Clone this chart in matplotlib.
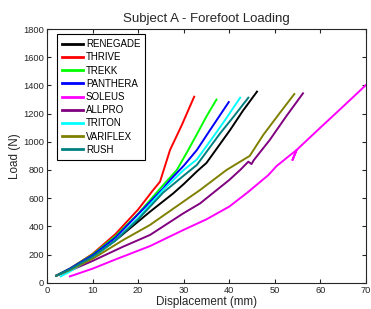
import numpy as np
import matplotlib
matplotlib.use('Agg')
import matplotlib.pyplot as plt

plt.rcParams['font.family'] = ['Liberation Sans', 'DejaVu Sans']

names = ['RENEGADE', 'THRIVE', 'TREKK', 'PANTHERA', 'SOLEUS',
         'ALLPRO', 'TRITON', 'VARIFLEX', 'RUSH']
colors = ['k', (1, 0, 0), (0, 1, 0), (0, 0, 1), (1, 0, 1),
          (0.5, 0, 0.5), (0, 1, 1), (0.5, 0.5, 0), (0, 0.5, 0.5)]

# displacement (mm) / load (N)
renegade_x = [2, 5, 10, 15, 20.4, 22.6, 27.7, 30, 32.9, 35, 37, 40.2, 43, 46.1]
renegade_y = [50, 95, 180, 300, 445, 504, 634, 700, 790, 850, 940, 1084, 1220, 1356]
thrive_x = [2, 5, 10, 15, 20, 23.3, 24.8, 27, 29.6, 32.3]
thrive_y = [50, 100, 205, 345, 520, 658, 717, 942, 1120, 1320]
trekk_x = [2, 5, 10, 15, 20, 25.5, 28.5, 31, 33, 35, 37.2]
trekk_y = [50, 100, 200, 330, 490, 693, 800, 942, 1060, 1180, 1300]
panthera_x = [2, 5, 10, 15, 20.4, 25.5, 27, 30, 32.9, 35.8, 39.9]
panthera_y = [50, 100, 195, 320, 500, 670, 729, 830, 942, 1084, 1282]
soleus_x = [5, 10, 15, 22.6, 29.9, 35, 40, 44, 48.6, 50.4, 54.8, 53.9, 54.8, 60, 65, 70.2]
soleus_y = [45, 100, 165, 260, 374, 450, 540, 640, 764, 828, 942, 871, 942, 1100, 1250, 1408]
allpro_x = [2, 5, 10, 16.7, 22.6, 29.9, 33.6, 40, 42.4, 44.2, 44.9, 45.4, 48.9, 52.5, 56.2]
allpro_y = [50, 85, 155, 256, 339, 492, 563, 729, 800, 859, 842, 870, 1013, 1180, 1344]
triton_x = [3, 5, 10, 15, 20, 25.5, 30, 32.9, 36.5, 39, 42.4]
triton_y = [45, 80, 180, 300, 460, 660, 800, 875, 1036, 1150, 1313]
variflex_x = [2, 5, 10, 16.7, 22.6, 29.9, 33.6, 39.4, 44.5, 47.5, 51, 54.3]
variflex_y = [50, 90, 170, 303, 410, 575, 658, 800, 900, 1050, 1200, 1339]
rush_x = [2, 5, 10, 15, 20, 25.5, 30, 32.9, 38, 41, 44.2]
rush_y = [50, 95, 185, 300, 450, 640, 760, 836, 1060, 1180, 1313]

xs = [renegade_x, thrive_x, trekk_x, panthera_x, soleus_x,
      allpro_x, triton_x, variflex_x, rush_x]
ys = [renegade_y, thrive_y, trekk_y, panthera_y, soleus_y,
      allpro_y, triton_y, variflex_y, rush_y]

fig = plt.figure(figsize=(3.71, 3.09), dpi=100)
ax = fig.add_axes([0.127, 0.085, 0.859, 0.821])

for x, y, c, n in zip(xs, ys, colors, names):
    ax.plot(x, y, color=c, lw=1.4, label=n)

ax.set_xlim(0, 70)
ax.set_ylim(0, 1800)
ax.set_xticks(range(0, 71, 10))
ax.set_yticks(range(0, 1801, 200))
ax.tick_params(direction='in', length=3, labelsize=6.7, top=True, right=True,
               colors='#262626', pad=2)
for s in ax.spines.values():
    s.set_linewidth(0.8)
    s.set_color('#262626')

ax.set_xlabel('Displacement (mm)', fontsize=8.4, labelpad=1, color='#262626')
ax.set_ylabel('Load (N)', fontsize=8.4, labelpad=2, color='#262626')
ax.set_title('Subject A - Forefoot Loading', fontsize=9.5, pad=5, color='#262626')

leg = ax.legend(loc='upper left', bbox_to_anchor=(0.03, 0.979), borderaxespad=0,
                fontsize=7, handlelength=2.2, handletextpad=0.3,
                labelspacing=0.33, borderpad=0.5,
                fancybox=False, edgecolor='k', framealpha=1)
leg.get_frame().set_linewidth(0.8)
for line in leg.get_lines():
    line.set_linewidth(2)

fig.savefig('out.png', dpi=100)
